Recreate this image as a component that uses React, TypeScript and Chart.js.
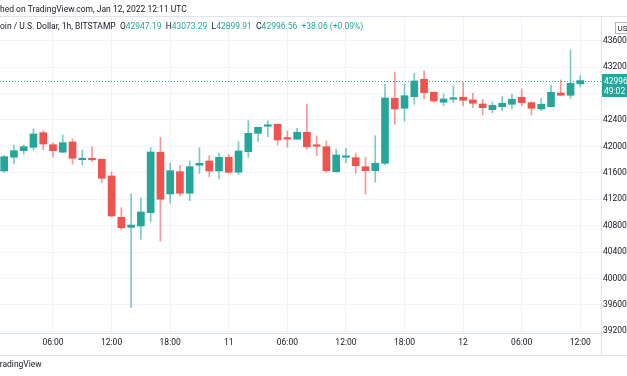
import React, { useEffect, useRef } from "react";
import { Chart, registerables } from "chart.js";
Chart.register(...registerables);

// hours since Jan 10 2022 00:00 UTC
const hours = Array.from({ length: 60 }, (_, i) => i + 1);
const opens = [
  41627, 41835, 41935, 41986, 42208, 42026, 41912, 42067, 41798, 41809,
  41805, 41552, 40926, 40774, 40794, 40996, 41911, 41279, 41617, 41290,
  41714, 41779, 41627, 41835, 41608, 41920, 42198, 42305, 42335, 42120,
  42108, 42214, 42017, 41995, 41617, 41835, 41829, 41692, 41632, 41744,
  42729, 42577, 42753, 43017, 42820, 42668, 42714, 42744, 42703, 42642,
  42556, 42602, 42638, 42744, 42663, 42567, 42602, 42809, 42774, 42947.19,
];
const highs = [
  41859, 42021, 42021, 42264, 42238, 42056, 42173, 42112, 41946, 41995,
  41810, 41612, 41071, 41279, 41218, 41983, 42138, 41744, 41708, 41779,
  41980, 41859, 41896, 41880, 42071, 42389, 42294, 42389, 42340, 42233,
  42274, 42638, 42158, 42082, 41956, 41971, 41896, 41835, 42162, 42941,
  43123, 42945, 43107, 43142, 42829, 42794, 42915, 42971, 42805, 42714,
  42673, 42753, 42794, 42870, 42678, 42729, 42930, 43006, 43460, 43073.29,
];
const lows = [
  41608, 41733, 41880, 41946, 41946, 41835, 41912, 41729, 41718, 41768,
  41450, 40935, 40734, 39562, 40593, 40859, 40567, 41138, 41249, 41177,
  41592, 41541, 41506, 41590, 41571, 41835, 42071, 42147, 42021, 41986,
  42108, 41956, 41859, 41608, 41608, 41753, 41592, 41279, 41456, 41718,
  42335, 42385, 42638, 42718, 42668, 42617, 42663, 42612, 42586, 42476,
  42511, 42541, 42567, 42617, 42476, 42541, 42602, 42774, 42723, 42899.91,
];
const closes = [
  41844, 41935, 41995, 42188, 42036, 41935, 42056, 41820, 41809, 41797,
  41517, 40946, 40768, 40809, 41006, 41915, 41199, 41632, 41290, 41693,
  41744, 41627, 41835, 41608, 41930, 42198, 42289, 42324, 42097, 42110,
  42214, 41995, 42002, 41632, 41870, 41850, 41708, 41632, 41744, 42733,
  42567, 42768, 42991, 42814, 42688, 42718, 42733, 42698, 42653, 42586,
  42623, 42653, 42714, 42663, 42577, 42638, 42820, 42774, 42956, 42996.56,
];
const timeTicks = [6, 12, 18, 24, 30, 36, 42, 48, 54, 60];
const timeLabels = ["06:00", "12:00", "18:00", "11", "06:00", "12:00", "18:00", "12", "06:00", "12:00"];
const priceTicks = [39200, 39600, 40000, 40400, 40800, 41200, 41600, 42000, 42400, 42800, 43200, 43600];

const UP = "#26a69a";
const DOWN = "#ef5350";
const UP_WICK = "rgba(38,166,154,0.6)";
const DOWN_WICK = "rgba(239,83,80,0.6)";
const FONT = "Roboto";
const TEXT = "#131722";
const LINE = "#e0e3eb";

const overlay = {
  id: "overlay",
  beforeDatasetsDraw(chart: any) {
    const ctx = chart.ctx;
    const a = chart.chartArea;
    const py = Math.round(chart.scales.y.getPixelForValue(closes[closes.length - 1])) + 0.5;
    ctx.save();
    ctx.strokeStyle = UP;
    ctx.lineWidth = 1;
    ctx.setLineDash([1, 2]);
    ctx.beginPath();
    ctx.moveTo(a.left, py);
    ctx.lineTo(a.right, py);
    ctx.stroke();
    ctx.restore();
  },
  afterDraw(chart: any) {
    const ctx = chart.ctx;
    const a = chart.chartArea;
    const W = chart.width;
    ctx.save();
    // frame lines
    ctx.strokeStyle = LINE;
    ctx.lineWidth = 1;
    ctx.beginPath();
    ctx.moveTo(0, a.top - 0.5);
    ctx.lineTo(W, a.top - 0.5);
    ctx.moveTo(0, 355.5);
    ctx.lineTo(W, 355.5);
    ctx.moveTo(Math.round(a.right) + 0.5, a.top);
    ctx.lineTo(Math.round(a.right) + 0.5, 355.5);
    ctx.stroke();

    // price box
    const last = closes[closes.length - 1];
    const py = Math.round(chart.scales.y.getPixelForValue(last)) + 0.5;
    ctx.fillStyle = UP;
    ctx.fillRect(a.right + 1, py - 7.5, W - a.right, 23);
    ctx.fillStyle = "#ffffff";
    ctx.font = `8.5px ${FONT}`;
    ctx.textBaseline = "middle";
    ctx.textAlign = "left";
    ctx.fillText(last.toFixed(2), a.right + 3, py);
    ctx.fillText("49:02", a.right + 3, py + 10);

    // USD box
    ctx.strokeStyle = "#b2b5be";
    ctx.strokeRect(615.5, 22.5, 20, 11);
    ctx.fillStyle = TEXT;
    ctx.font = `8px ${FONT}`;
    ctx.fillText("USD", 617.5, 28.5);

    // header
    ctx.font = `8.5px ${FONT}`;
    ctx.fillStyle = TEXT;
    const l1 = "Published on TradingView.com, Jan 12, 2022 12:11 UTC";
    ctx.fillText(l1, -ctx.measureText("Publis").width, 9.5);

    let x = -ctx.measureText("Bitc").width;
    const segs: [string, string][] = [
      ["Bitcoin / U.S. Dollar, 1h, BITSTAMP", TEXT],
      ["  O", TEXT], [opens[59].toFixed(2), UP],
      ["  H", TEXT], [highs[59].toFixed(2), UP],
      ["  L", TEXT], [lows[59].toFixed(2), UP],
      ["  C", TEXT], [closes[59].toFixed(2), UP],
      ["  +38.06 (+0.09%)", UP],
    ];
    for (const [t, c] of segs) {
      ctx.fillStyle = c;
      ctx.fillText(t, x, 26.5);
      x += ctx.measureText(t).width;
    }

    // footer
    ctx.fillStyle = TEXT;
    ctx.fillText("TradingView", -ctx.measureText("T").width, 364.5);
    ctx.restore();
  },
};

export default function App() {
  const ref = useRef<HTMLCanvasElement>(null);
  useEffect(() => {
    if (!ref.current) return;
    const up = hours.map((_, i) => closes[i] >= opens[i]);
    const chart = new Chart(ref.current, {
      type: "bar",
      data: {
        datasets: [
          {
            label: "body",
            data: hours.map((h, i) => ({ x: h, y: [opens[i], closes[i]] })) as any,
            backgroundColor: up.map((u) => (u ? UP : DOWN)),
            borderWidth: 0,
            barThickness: 7,
            minBarLength: 1.5,
            grouped: false,
          } as any,
          {
            label: "wick",
            data: hours.map((h, i) => ({ x: h, y: [lows[i], highs[i]] })) as any,
            backgroundColor: up.map((u) => (u ? UP_WICK : DOWN_WICK)),
            borderWidth: 0,
            barThickness: 1,
            grouped: false,
          } as any,
        ],
      },
      options: {
        animation: false,
        responsive: false,
        devicePixelRatio: 1,
        layout: { padding: { top: 17, left: 0, right: 0, bottom: 0 } },
        plugins: { legend: { display: false }, tooltip: { enabled: false } },
        scales: {
          x: {
            type: "linear",
            min: 0.5735,
            max: 62.12,
            offset: false,
            grid: { color: "#f0f3fa", drawTicks: false, offset: false },
            border: { display: true, color: LINE },
            afterBuildTicks: (s: any) => {
              s.ticks = timeTicks.map((v) => ({ value: v }));
            },
            afterFit: (s: any) => {
              s.height = 43;
            },
            ticks: {
              autoSkip: false,
              maxRotation: 0,
              padding: 5,
              color: TEXT,
              font: { family: FONT, size: 8.5 },
              callback: (v: any) => {
                const i = timeTicks.indexOf(Number(v));
                return i >= 0 ? timeLabels[i] : "";
              },
            },
          },
          y: {
            position: "right",
            min: 39173,
            max: 43960,
            grid: { color: "#f0f3fa", drawTicks: false },
            border: { display: true, color: LINE },
            afterBuildTicks: (s: any) => {
              s.ticks = priceTicks.map((v) => ({ value: v }));
            },
            afterFit: (s: any) => {
              s.width = 26;
            },
            ticks: {
              padding: 2,
              color: TEXT,
              font: { family: FONT, size: 8.5 },
              callback: (v: any) => String(v),
            },
          },
        },
      },
      plugins: [overlay],
    });
    return () => chart.destroy();
  }, []);
  return (
    <div style={{ position: "fixed", left: 0, top: 0, width: 627, height: 376, background: "#fff" }}>
      <canvas ref={ref} width={627} height={376} style={{ display: "block" }} />
    </div>
  );
}
